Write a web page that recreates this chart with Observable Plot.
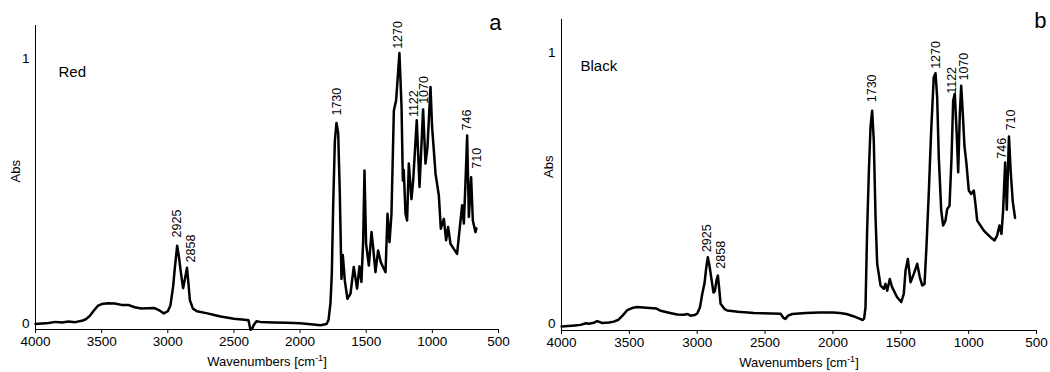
<!DOCTYPE html>
<html><head><meta charset="utf-8">
<script src="https://cdn.jsdelivr.net/npm/d3@7"></script>
<script src="https://cdn.jsdelivr.net/npm/@observablehq/plot@0.6"></script>
<style>
body{margin:0;background:#fff;}
#wrap{position:relative;width:1050px;height:372px;overflow:hidden;}
#wrap svg{position:absolute;top:0;}
</style></head><body><div id="wrap"></div>
<script>
// ---- data ----
const xTicks = [4000, 3500, 3000, 2500, 2000, 1500, 1000, 500];
const yTicks = [0, 1];

const redWavenumber = [4000,3950,3900,3850,3800,3750,3700,3650,3620,3590,3560,3530,3500,3450,3400,3350,3300,3250,3200,3150,3100,3060,3030,3000,2980,2960,2945,2929,2915,2900,2884,2870,2855,2845,2833,2810,2780,2700,2650,2600,2500,2420,2390,2375,2360,2350,2330,2300,2200,2100,2000,1900,1846,1800,1785,1770,1760,1750,1737,1725,1712,1700,1687,1677,1662,1642,1619,1594,1569,1551,1536,1523,1513,1501,1480,1460,1448,1430,1410,1390,1372,1354,1339,1324,1309,1291,1274,1249,1233,1223,1216,1203,1191,1178,1158,1145,1118,1097,1070,1052,1037,1014,1002,976,951,936,913,896,881,863,838,813,795,775,762,750,737,724,707,694,674,667];
const redAbs = [0.000,0.002,0.004,0.008,0.006,0.009,0.007,0.012,0.018,0.030,0.050,0.068,0.075,0.078,0.077,0.072,0.072,0.063,0.058,0.059,0.060,0.050,0.040,0.048,0.070,0.140,0.220,0.295,0.250,0.190,0.135,0.170,0.212,0.160,0.090,0.058,0.048,0.040,0.034,0.028,0.020,0.016,0.014,-0.022,-0.015,-0.004,0.010,0.008,0.006,0.005,0.003,-0.002,-0.005,0.000,0.015,0.080,0.190,0.440,0.690,0.757,0.720,0.500,0.170,0.260,0.164,0.095,0.114,0.215,0.133,0.217,0.158,0.315,0.578,0.302,0.220,0.346,0.290,0.195,0.277,0.233,0.214,0.195,0.415,0.308,0.415,0.804,0.842,1.020,0.817,0.540,0.580,0.415,0.390,0.604,0.470,0.540,0.767,0.516,0.808,0.604,0.666,0.892,0.742,0.566,0.484,0.359,0.396,0.315,0.365,0.302,0.283,0.264,0.352,0.447,0.378,0.528,0.710,0.403,0.553,0.390,0.346,0.360];

const blackWavenumber = [4000,3950,3900,3860,3820,3800,3760,3737,3700,3650,3615,3580,3550,3516,3480,3442,3400,3350,3300,3270,3200,3147,3100,3070,3050,3020,3000,2980,2963,2946,2935,2922,2910,2897,2880,2870,2858,2848,2838,2828,2800,2779,2700,2583,2450,2386,2365,2350,2330,2300,2200,2100,2000,1950,1900,1850,1809,1780,1770,1760,1748,1735,1723,1711,1699,1686,1674,1649,1625,1613,1600,1581,1564,1527,1497,1478,1465,1448,1428,1404,1379,1360,1342,1325,1311,1293,1276,1257,1244,1232,1220,1202,1188,1171,1158,1141,1126,1114,1102,1089,1077,1065,1055,1043,1031,1016,999,981,962,950,937,913,888,864,839,809,790,773,758,746,731,719,703,690,675,658];
const blackAbs = [-0.010,-0.008,-0.006,-0.004,0.002,0.000,0.004,0.010,0.003,0.005,0.008,0.015,0.030,0.050,0.058,0.062,0.060,0.058,0.056,0.048,0.040,0.034,0.033,0.036,0.030,0.032,0.038,0.060,0.110,0.150,0.200,0.245,0.215,0.172,0.115,0.120,0.160,0.178,0.130,0.074,0.055,0.049,0.044,0.040,0.038,0.037,0.022,0.018,0.030,0.036,0.040,0.042,0.042,0.040,0.036,0.028,0.020,0.014,0.020,0.060,0.343,0.564,0.724,0.785,0.675,0.392,0.221,0.141,0.129,0.147,0.122,0.165,0.135,0.098,0.080,0.110,0.196,0.239,0.153,0.184,0.221,0.172,0.141,0.147,0.282,0.491,0.712,0.908,0.923,0.834,0.613,0.417,0.362,0.380,0.423,0.435,0.613,0.822,0.847,0.712,0.558,0.773,0.877,0.773,0.656,0.589,0.491,0.478,0.491,0.442,0.380,0.362,0.343,0.331,0.319,0.307,0.325,0.362,0.331,0.417,0.594,0.420,0.690,0.560,0.450,0.390];

const peakLabels = ["2925","2858","1730","1270","1122","1070","746","710"];
const redLabelWavenumber = [2927,2825,1720,1261,1141,1065,737,661];
const redLabelAbs = [0.326,0.232,0.785,1.036,0.779,0.829,0.729,0.585];
const blackLabelWavenumber = [2926,2828,1711,1239,1121,1035,753,686];
const blackLabelAbs = [0.264,0.203,0.816,0.939,0.847,0.896,0.608,0.712];

const panelNames = ["Red", "Black"];
const panelLetters = ["a", "b"];
const xLabel = "Wavenumbers [cm-1]";
const yLabel = "Abs";

// ---- drawing ----
const FONT = "'Liberation Sans', Arial, Helvetica, sans-serif";

function panel(o) {
  const rows = o.wn.map((w, i) => ({wn: w, abs: o.abs[i]}));
  const labels = peakLabels.map((t, i) => ({t, wn: o.lwn[i], v: o.lab[i]}));
  const xDomain = [xTicks[0], xTicks[xTicks.length - 1]];
  const svg = Plot.plot({
    width: o.width, height: 372,
    marginLeft: o.ml, marginRight: o.mr, marginTop: o.mt, marginBottom: o.mb,
    style: {fontFamily: FONT, fontSize: "13px", background: "white", color: "black"},
    x: {domain: xDomain},
    y: {domain: o.yDomain},
    marks: [
      Plot.axisX({ticks: xTicks, tickFormat: "d", tickSize: 4, tickPadding: 3, label: null, fontSize: 13.5}),
      Plot.axisY({ticks: yTicks, tickFormat: "d", tickSize: 0, tickPadding: 6, label: null, fontSize: 13.5}),
      Plot.ruleX([xDomain[0]], {stroke: "black", strokeWidth: 1}),
      Plot.ruleY([o.yDomain[0]], {stroke: "black", strokeWidth: 1}),
      Plot.line(rows, {x: "wn", y: "abs", stroke: "black", strokeWidth: 2.5, strokeLinejoin: "round", strokeLinecap: "round"}),
      Plot.text(labels, {x: "wn", y: "v", text: "t", rotate: -90, textAnchor: "start", fontSize: 12.5, fill: "black"}),
      Plot.text([o.name], {frameAnchor: "top-left", dx: o.nameDx, dy: o.nameDy, textAnchor: "start", fontSize: 15, fill: "black"}),
      Plot.text([o.letter], {frameAnchor: "top-right", dx: o.letterDx, dy: o.letterDy, textAnchor: "end", fontSize: 22, fill: "black"}),
      Plot.text([yLabel], {frameAnchor: "left", dx: o.absDx, dy: o.absDy, rotate: -90, fontSize: 13, fill: "black"}),
      Plot.text([xLabel], {frameAnchor: "bottom", dy: 36, fontSize: 13, fill: "black"})
    ]
  });
  // superscript for cm-1
  svg.querySelectorAll("text").forEach(t => {
    if (t.textContent === xLabel) {
      while (t.firstChild) t.removeChild(t.firstChild);
      const ns = "http://www.w3.org/2000/svg";
      const a = document.createElementNS(ns, "tspan"); a.textContent = "Wavenumbers [cm";
      const b = document.createElementNS(ns, "tspan"); b.textContent = "-1"; b.setAttribute("font-size", "9"); b.setAttribute("dy", "-5");
      const c = document.createElementNS(ns, "tspan"); c.textContent = "]"; c.setAttribute("dy", "5");
      t.appendChild(a); t.appendChild(b); t.appendChild(c);
    }
  });
  svg.style.left = o.left + "px";
  return svg;
}

const wrap = document.getElementById("wrap");
wrap.appendChild(panel({
  wn: redWavenumber, abs: redAbs, lwn: redLabelWavenumber, lab: redLabelAbs,
  name: panelNames[0], letter: panelLetters[0],
  width: 525, left: 0, ml: 35, mr: 27, mt: 25, mb: 43,
  yDomain: [-0.0207, 1.124],
  nameDx: 23, nameDy: 41, letterDx: 3, letterDy: -11, absDx: -20, absDy: 5
}));
wrap.appendChild(panel({
  wn: blackWavenumber, abs: blackAbs, lwn: blackLabelWavenumber, lab: blackLabelAbs,
  name: panelNames[1], letter: panelLetters[1],
  width: 525, left: 525, ml: 36, mr: 14, mt: 19, mb: 42,
  yDomain: [-0.0247, 1.1208],
  nameDx: 19, nameDy: 41, letterDx: 10, letterDy: -7, absDx: -13, absDy: 3
}));
</script></body></html>
